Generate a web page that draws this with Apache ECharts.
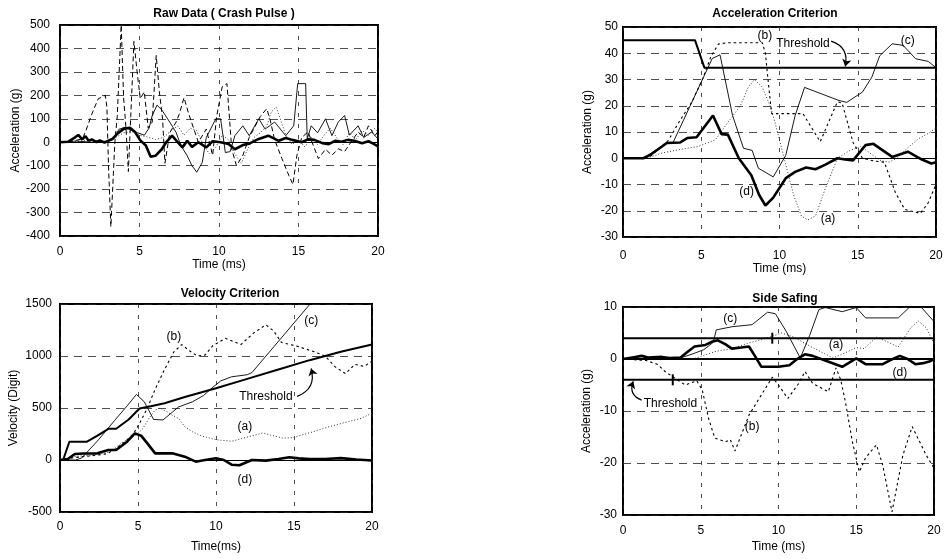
<!DOCTYPE html>
<html><head><meta charset="utf-8">
<script src="https://cdn.jsdelivr.net/npm/echarts@6/dist/echarts.min.js"></script>
<style>html,body{margin:0;padding:0;background:#fff}#c{width:947px;height:559px}</style>
</head><body><div id="c"></div>
<script>
// ---------- Panel 1: Raw Data (Crash Pulse) ----------
const raw_a = [[0,0],[1,4],[2,8],[3,2],[3.5,20],[4.0,40],[4.5,46],[5.0,30],[5.5,22],[6.0,12],[6.5,20],[7.0,50],[7.4,70],[7.8,30],[8.2,60],[8.6,50],[9.0,-10],[9.4,-50],[9.8,-20],[10.2,30],[10.6,10],[11.0,-50],[11.4,-90],[11.8,-30],[12.2,20],[12.6,40],[13.0,70],[13.3,130],[13.6,150],[13.9,90],[14.2,30],[14.6,-10],[15.0,10],[15.4,-20],[15.8,20],[16.2,-10],[16.6,30],[17.0,60],[17.4,20],[17.8,-10],[18.2,40],[18.6,10],[19.0,50],[19.4,30],[19.8,60],[20,40]];
const raw_b = [[0,0],[0.8,5],[1.4,14],[1.6,44],[2.0,120],[2.4,185],[2.85,200],[2.95,150],[3.05,-100],[3.2,-360],[3.45,0],[3.6,110],[3.85,500],[4.0,190],[4.15,60],[4.3,-125],[4.45,110],[4.65,430],[4.85,300],[5.05,185],[5.3,215],[5.55,60],[5.8,86],[6.05,370],[6.25,215],[6.45,100],[6.6,-90],[6.9,40],[7.3,86],[7.5,120],[7.8,190],[8.1,120],[8.4,60],[8.7,0],[9.2,56],[9.6,-56],[9.85,110],[10.2,236],[10.5,250],[10.8,-30],[11.1,-100],[11.5,-56],[11.9,20],[12.6,110],[13.0,143],[13.2,100],[13.5,10],[13.96,-70],[14.4,-143],[14.65,-180],[14.9,-56],[15.2,20],[15.6,44],[16.25,-70],[16.7,-30],[17.1,-56],[17.5,-28],[17.9,-40],[18.3,0],[18.75,44],[19.1,20],[19.4,70],[19.8,28],[20,45]];
const raw_c = [[0,0],[1,5],[2,0],[3,5],[3.4,15],[3.7,55],[4.1,64],[4.5,50],[4.9,40],[5.3,30],[5.6,60],[5.8,114],[6.1,158],[6.4,138],[6.9,86],[7.3,42],[7.6,-14],[8.0,-58],[8.3,-100],[8.6,-128],[8.95,-86],[9.2,20],[9.5,60],[9.8,100],[10.1,100],[10.4,-44],[10.7,-40],[11.0,28],[11.5,70],[11.9,28],[12.5,100],[12.9,56],[13.5,86],[14.2,28],[14.7,70],[14.95,250],[15.45,250],[15.55,14],[15.8,70],[16.2,40],[16.7,100],[17.1,28],[17.5,86],[17.9,114],[18.2,30],[18.75,70],[19.1,20],[19.6,44],[20,14]];
const raw_d = [[0,0],[0.5,2],[0.95,21],[1.15,31],[1.4,12],[1.6,26],[1.8,6],[2.0,12],[2.3,0],[2.5,8],[2.8,-2],[3.0,5],[3.3,14],[3.6,36],[4.0,57],[4.4,62],[4.7,45],[5.05,8],[5.4,-14],[5.7,-62],[6.0,-58],[6.4,-30],[6.7,2],[7.05,28],[7.4,0],[7.7,-22],[8.0,6],[8.3,-20],[8.7,0],[9.2,-22],[9.6,4],[10.1,0],[10.6,-8],[11.0,-30],[11.5,-12],[11.9,-6],[12.5,14],[13.1,28],[13.75,6],[14.2,18],[14.6,10],[15.2,0],[15.6,12],[16.0,10],[16.5,-4],[16.9,-8],[17.3,6],[17.7,2],[18.1,10],[18.5,6],[19.0,-4],[19.4,4],[19.7,-6],[20.0,-18]];

// ---------- Panel 2: Velocity Criterion ----------
const vel_thr = [[0,0],[0.2,0],[0.6,175],[1.7,175],[2.4,235],[3.1,300],[3.6,300],[4.4,390],[5.1,495],[5.9,520],[6.7,545],[8.0,605],[10,690],[12,780],[14,870],[16,960],[18,1040],[20,1110]];
const vel_a = [[0,0],[0.5,20],[1,35],[2,45],[3,70],[3.5,110],[3.95,165],[4.5,210],[4.9,245],[5.3,300],[5.7,400],[6.1,480],[6.4,500],[6.8,470],[7.2,430],[7.6,400],[8.0,320],[8.5,270],[9.1,230],[10.0,195],[11.0,180],[12.0,220],[13.0,260],[13.5,240],[14.3,210],[14.9,215],[15.5,240],[16.2,270],[16.8,300],[17.5,330],[18.5,370],[19.3,400],[20,450]];
const vel_b = [[0,0],[1,25],[2,40],[3,60],[3.5,100],[4.2,180],[4.7,250],[5.2,380],[5.6,500],[6.1,680],[6.7,870],[7.3,1040],[7.8,1110],[8.3,1050],[8.8,1000],[9.3,1010],[9.8,1100],[10.6,1170],[11.6,1110],[12.4,1220],[13.2,1300],[13.7,1240],[14.2,1130],[15.3,1090],[16.3,1040],[17.0,1000],[17.6,900],[18.3,830],[18.9,920],[19.5,900],[20,950]];
const vel_c = [[0,0],[1.0,0],[1.4,20],[2.5,200],[3.5,380],[4.3,520],[4.9,630],[5.4,560],[6.0,390],[6.6,385],[7.2,460],[7.6,510],[8.5,560],[9.2,620],[9.8,700],[10.3,760],[11.0,800],[12.0,820],[12.3,840],[16.2,1530]];
const vel_d = [[0,0],[0.5,10],[0.95,58],[1.5,62],[2.4,64],[3.1,96],[3.6,96],[4.3,176],[4.8,256],[5.2,234],[5.6,160],[6.1,64],[7.2,64],[8.0,32],[8.7,-16],[9.3,0],[10.0,16],[10.5,0],[11.0,-45],[11.5,-50],[12.3,0],[13.2,-6],[14.0,10],[14.7,26],[15.3,16],[16.0,8],[17.0,10],[18.0,18],[19.0,5],[20,-5]];

// ---------- Panel 3: Acceleration Criterion ----------
const acc_thr = [[0,45],[4.6,45],[5.2,34.5],[20,34.5]];
const acc_a = [[0,0],[1.5,0],[2.5,2],[3.5,3.2],[4.8,4.5],[5.9,7],[6.5,12],[7.0,16],[7.5,20],[8.0,27],[8.4,30],[8.9,27],[9.4,20],[9.7,14],[10.3,0],[10.9,-14],[11.4,-22],[11.8,-23.5],[12.3,-22],[12.9,-12],[13.7,0],[14.5,3],[15.2,4.5],[16.0,1],[16.5,-1],[17.0,-1.5],[17.5,0],[18.2,4],[18.9,7.5],[19.5,9.5],[20,11.5]];
const acc_b = [[0,0],[1.2,0],[1.7,0.5],[2.9,6.8],[3.6,14],[4.4,21.4],[5.1,30.4],[5.6,38.5],[6.1,43.5],[6.6,44],[8.9,44],[9.1,40],[9.3,28],[9.5,17],[11.5,17],[12.6,6.3],[13.7,21.5],[14.0,21],[14.7,6],[15.3,0],[16.0,-1],[16.7,-1.5],[17.4,-13],[18.0,-19.5],[19.0,-21],[19.5,-17],[20,-10]];
const acc_c = [[0,0],[1.3,0],[2.8,5.8],[3.2,6],[5.7,38],[6.2,39.4],[7.0,16.3],[7.7,3.8],[8.25,3],[8.65,-3.8],[9.6,-7.1],[10.4,1.1],[11.0,16.3],[11.6,27],[13.8,22],[14.3,21.3],[15.3,25.2],[15.9,30.9],[16.4,39],[17.2,43.6],[17.9,43],[18.7,37.9],[19.5,36.9],[20,34.5]];
const acc_d = [[0,0],[1.3,0],[1.8,1.5],[2.8,5.8],[3.65,6],[4.1,7.7],[4.7,8],[5.75,16.3],[6.3,9.2],[6.7,9],[7.4,0],[8.2,-6.5],[8.7,-14],[9.1,-18],[9.6,-15],[10.4,-7.6],[11.0,-5.2],[11.7,-3.5],[12.3,-4.2],[12.9,-2.5],[13.7,0],[14.2,-0.5],[14.7,-0.8],[15.5,5],[16.0,5.5],[17.2,0.5],[18.2,2.5],[19.1,-0.5],[19.7,-2],[20,-1.5]];

// ---------- Panel 4: Side Safing ----------
const side_thrU = [[0,4],[20,4]];
const side_thrL = [[0,-4],[20,-4]];
const side_cross = [[3.2,-4],[9.6,4]];
const side_a = [[0,0],[4.5,0],[5,0.5],[6,1.5],[7,2],[8,3],[9,3.8],[10.2,5],[11,4.2],[12,2.5],[13.5,0.2],[14.3,1.2],[15,2.2],[15.5,2],[16.3,4.2],[17,3.3],[17.7,2.3],[18.5,6],[19,7.3],[19.5,6],[20,3]];
const side_b = [[0,0],[1.5,-0.3],[2.2,-1],[2.7,-2.4],[3.5,-4],[4.0,-5],[4.75,-4.2],[5.1,-6],[5.5,-11.4],[5.9,-15.2],[6.6,-15.9],[6.9,-15.5],[7.2,-17.7],[8.1,-10.8],[8.9,-6.9],[9.6,-3.5],[10.0,-5],[10.6,-7.6],[11.3,-4.7],[11.7,-2.4],[12.2,-4.7],[13.2,-6.3],[13.7,-1.7],[14.0,-4],[14.3,-8.2],[14.75,-15.9],[15.2,-21.7],[15.6,-19],[16.3,-16.5],[16.7,-20.4],[17.3,-29.4],[18.0,-18.5],[18.6,-13],[19.5,-18.5],[20,-21]];
const side_c = [[0,0],[3.7,0.2],[4.5,1],[5.2,1.8],[5.8,3.2],[6.0,5.6],[7,6.2],[8.3,6.6],[9.3,9],[9.8,8.7],[10.5,5.3],[11.4,0.2],[12.0,4.5],[12.6,9.5],[13.0,9.9],[14.1,9.1],[15,9.9],[15.6,7.9],[17.7,7.9],[18.4,9.9],[19.2,9.9],[20,7.2]];
const side_d = [[0,0],[0.8,0.4],[1.2,0.6],[1.6,0.3],[2.5,0.4],[3.0,0.2],[3.7,0.3],[4.2,1.5],[4.6,2.4],[5.3,2.7],[5.7,3.3],[6.1,3.6],[6.6,2.8],[7.0,2],[7.6,2.2],[8.1,2.4],[8.5,0.5],[8.9,-1.5],[10.0,-1.5],[10.7,-1.2],[11.2,0],[11.7,0.9],[12.2,0.6],[13.0,-0.3],[14.1,-1.5],[14.6,-0.6],[15.0,0.1],[15.6,-1],[16.7,-1],[17.2,-0.2],[17.8,0.6],[18.3,0],[18.8,-1],[19.3,-0.8],[19.7,-0.5],[20,0]];

// ---------- Annotations (data coordinates) ----------
const vel_labels = [['(b)',7.3,1190],['(c)',16.1,1340],['Threshold',13.2,612],['(a)',11.85,322],['(d)',11.85,-192]];
const vel_arrow = [[15.2,612],[16.1,880]];
const acc_labels = [['(b)',9.07,46.8],['Threshold',11.5,43.6],['(c)',18.2,44.9],['(d)',7.9,-12.8],['(a)',13.1,-22.9]];
const acc_arrow = [[13.3,44.6],[14.2,35]];
const side_labels = [['(c)',6.9,7.8],['(a)',13.7,2.7],['(d)',17.8,-2.6],['(b)',8.3,-13],['Threshold',3.05,-8.5]];
const side_arrow = [[1.2,-7.9],[0.66,-4.3]];

const titles = ['Raw Data ( Crash Pulse )','Velocity Criterion','Acceleration Criterion','Side Safing'];
const yNames = ['Acceleration (g)','Velocity (Digit)','Acceleration (g)','Acceleration (g)'];
const xNames = ['Time (ms)','Time(ms)','Time (ms)','Time (ms)'];
const yRanges = [[-400,500,100],[-500,1500,500],[-30,50,10],[-30,10,10]];

const FONT = 'Liberation Sans, Arial, sans-serif';
const grids = [
  {left:60, top:25, width:318, height:211},
  {left:60, top:304, width:312, height:208},
  {left:623, top:27, width:313, height:210},
  {left:623, top:307, width:311, height:208}
];
const xLabelMargin = [10,9,13,10];
const yLabelMargin = [10,8,5,6];
const xNameGap = [22,29,20,26];
const yNameGap = [38,40,29,30];
const titlePos = [[224,8],[230,288],[775,8],[785,293]];

const S = {
  a: {color:'#333', width:1, type:[1,2]},
  b: {color:'#000', width:1.1, type:[2.5,3]},
  braw: {color:'#000', width:1, type:[5,3]},
  c: {color:'#000', width:0.9, type:'solid'},
  d: {color:'#000', width:2.6, type:'solid'},
  thr: {color:'#000', width:2, type:'solid'}
};

function line(data, gi, style) {
  return {type:'line', xAxisIndex:gi, yAxisIndex:gi, data:data, symbol:'none', showSymbol:false,
    lineStyle:style, silent:true, animation:false, z:3};
}
function zero(gi, w) {
  return {type:'line', xAxisIndex:gi, yAxisIndex:gi, data:[], symbol:'none', silent:true,
    markLine:{silent:true, symbol:'none', label:{show:false}, animation:false,
      lineStyle:{color:'#000', width:w, type:'solid'}, data:[{yAxis:0}]}, z:2};
}
function arrow(coords, gi, curv) {
  return {type:'lines', coordinateSystem:'cartesian2d', xAxisIndex:gi, yAxisIndex:gi, silent:true, z:5,
    symbol:['none','arrow'], symbolSize:7,
    lineStyle:{color:'#000', width:1.2, curveness:curv, opacity:1},
    data:[{coords:coords}]};
}

const option = {
  animation:false,
  backgroundColor:'#fff',
  title: titles.map((t,i)=>({text:t, left:titlePos[i][0], top:titlePos[i][1], textAlign:'center', padding:0,
    textStyle:{fontSize:12, fontWeight:'bold', color:'#000', fontFamily:FONT}})),
  grid: grids.map(g=>Object.assign({show:true, borderColor:'#000', borderWidth:2, backgroundColor:'rgba(0,0,0,0)', containLabel:false}, g)),
  xAxis: grids.map((g,i)=>({type:'value', gridIndex:i, min:0, max:20, interval:5,
    axisLine:{show:false}, axisTick:{show:false},
    axisLabel:{margin:xLabelMargin[i], fontSize:12, color:'#000', fontFamily:FONT, formatter:v=>String(v)},
    splitLine:{show:true, lineStyle:{color:'#222', width:0.8, type:[4,7]}},
    name:xNames[i], nameLocation:'middle', nameGap:xNameGap[i],
    nameTextStyle:{fontSize:12, color:'#000', fontFamily:FONT}})),
  yAxis: grids.map((g,i)=>({type:'value', gridIndex:i, min:yRanges[i][0], max:yRanges[i][1], interval:yRanges[i][2],
    axisLine:{show:false}, axisTick:{show:false},
    axisLabel:{margin:yLabelMargin[i], fontSize:12, color:'#000', fontFamily:FONT, formatter:v=>String(v)},
    splitLine:{show:true, lineStyle:{color:'#222', width:0.8, type:[8,6]}},
    name:yNames[i], nameLocation:'middle', nameGap:yNameGap[i],
    nameTextStyle:{fontSize:12, color:'#000', fontFamily:FONT}})),
  series: [
    zero(0,1), line(raw_a,0,S.a), line(raw_b,0,S.braw), line(raw_c,0,S.c), line(raw_d,0,S.d),
    zero(1,1), line(vel_a,1,S.a), line(vel_b,1,S.b), line(vel_c,1,S.c), line(vel_d,1,S.d), line(vel_thr,1,S.thr),
    arrow(vel_arrow,1,-0.45),
    zero(2,1.2), line(acc_a,2,S.a), line(acc_b,2,S.b), line(acc_c,2,S.c), line(acc_d,2,S.d), line(acc_thr,2,S.thr),
    arrow(acc_arrow,2,0.45),
    zero(3,1.8), line(side_a,3,S.a), line(side_b,3,S.b), line(side_c,3,S.c), line(side_d,3,S.d),
    line(side_thrU,3,S.thr), line(side_thrL,3,S.thr),
    {type:'scatter', xAxisIndex:3, yAxisIndex:3, data:side_cross, symbol:'rect', symbolSize:[2,11], silent:true, itemStyle:{color:'#000', opacity:1}, z:4},
    arrow(side_arrow,3,0.5)
  ]
};
const chart = echarts.init(document.getElementById('c'));
chart.setOption(option);

// Annotation texts placed through the chart's own scales
const labelSets = [[vel_labels,1],[acc_labels,2],[side_labels,3]];
const elements = [];
labelSets.forEach(([set, gi]) => {
  set.forEach(([txt, x, y]) => {
    const p = chart.convertToPixel({gridIndex: gi}, [x, y]);
    elements.push({type:'text', x:p[0], y:p[1], z:100, silent:true,
      style:{text:txt, fill:'#000', font:'12px ' + FONT, textAlign:'center', textVerticalAlign:'middle'}});
  });
});
chart.setOption({graphic: elements});
</script>
</body></html>
